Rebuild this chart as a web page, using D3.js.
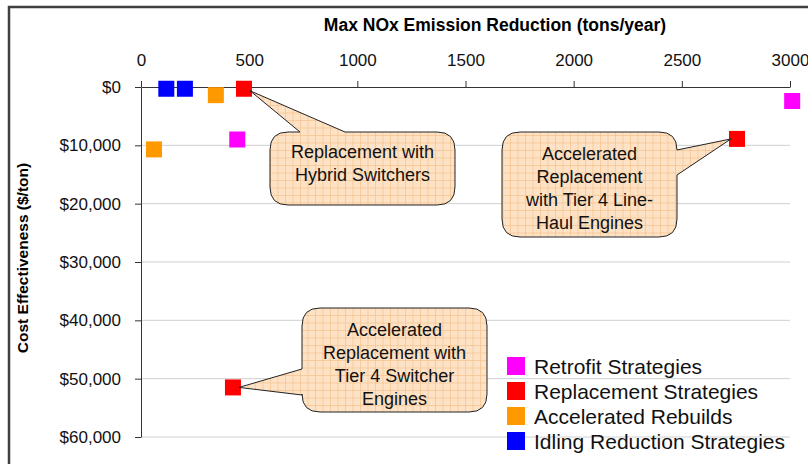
<!DOCTYPE html>
<html>
  <head>
    <script src="https://d3js.org/d3.v7.min.js"></script>
    <style>
      body { margin: 0; background: white; }
      svg { display: block; font-family: "Liberation Sans", Arial, sans-serif; }
    </style>
  </head>
  <body>
    <script>
      // data
      const seriesNames = ['Retrofit Strategies', 'Replacement Strategies', 'Accelerated Rebuilds', 'Idling Reduction Strategies'];
      const seriesColors = ['#ff00ff', '#ff0000', '#ff9900', '#0000ff'];
      const retrofitX = [445, 3010];
      const retrofitY = [9000, 2400];
      const replacementX = [476, 2755, 425];
      const replacementY = [300, 8900, 51500];
      const rebuildX = [346, 60];
      const rebuildY = [1400, 10700];
      const idlingX = [117, 203];
      const idlingY = [300, 300];
      const xTicks = [0, 500, 1000, 1500, 2000, 2500, 3000];
      const yTicks = [0, 10000, 20000, 30000, 40000, 50000, 60000];

      const calloutText = [
        ['Replacement with', 'Hybrid Switchers'],
        ['Accelerated', 'Replacement', 'with Tier 4 Line-', 'Haul Engines'],
        ['Accelerated', 'Replacement with', 'Tier 4 Switcher', 'Engines']
      ];

      const seriesX = [retrofitX, replacementX, rebuildX, idlingX];
      const seriesY = [retrofitY, replacementY, rebuildY, idlingY];

      const w = 808, h = 464;
      const svg = d3.select('body').append('svg').attr('width', w).attr('height', h);

      const x = d3.scaleLinear().domain([0, 3000]).range([141, 790]);
      const y = d3.scaleLinear().domain([0, 60000]).range([87, 437]);

      // outer frame
      svg.append('rect')
         .attr('x', 9).attr('y', 7).attr('width', 900).attr('height', 600)
         .attr('fill', 'none').attr('stroke', '#404040').attr('stroke-width', 2.5);

      // callout fill pattern
      const pat = svg.append('defs').append('pattern')
         .attr('id', 'grid').attr('patternUnits', 'userSpaceOnUse')
         .attr('width', 7.5).attr('height', 7.5);
      pat.append('rect').attr('width', 7.5).attr('height', 7.5).attr('fill', '#fde2c6');
      pat.append('path').attr('d', 'M0,0.4H7.5M0.4,0V7.5')
         .attr('stroke', '#f6c492').attr('stroke-width', 0.8);

      // gridlines
      svg.append('g').selectAll('line')
         .data(yTicks.slice(1))
         .join('line')
         .attr('x1', x(0)).attr('x2', x(3000))
         .attr('y1', d => y(d)).attr('y2', d => y(d))
         .attr('stroke', '#d0d0d0').attr('stroke-width', 1);

      // axes
      const xAxis = svg.append('g')
         .attr('transform', `translate(0,${y(0)})`)
         .call(d3.axisTop(x).tickValues(xTicks).tickSize(6).tickPadding(15).tickSizeOuter(0)
               .tickFormat(d3.format('d')));
      const yAxis = svg.append('g')
         .attr('transform', `translate(${x(0)},0)`)
         .call(d3.axisLeft(y).tickValues(yTicks).tickSize(6).tickPadding(14).tickSizeOuter(0)
               .tickFormat(d => '$' + d3.format(',')(d)));
      [xAxis, yAxis].forEach(a => {
        a.select('.domain').attr('stroke', '#333');
        a.selectAll('.tick line').attr('stroke', '#333');
        a.selectAll('text').attr('font-size', 17).attr('fill', '#111')
         .attr('font-family', '"Liberation Sans", Arial, sans-serif');
      });

      svg.append('text')
         .attr('x', 495).attr('y', 31)
         .attr('text-anchor', 'middle')
         .attr('font-size', 17.5).attr('font-weight', 'bold')
         .text('Max NOx Emission Reduction (tons/year)');

      svg.append('text')
         .attr('transform', 'translate(28,258) rotate(-90)')
         .attr('text-anchor', 'middle')
         .attr('font-size', 15.5).attr('font-weight', 'bold')
         .text('Cost Effectiveness ($/ton)');

      // points
      const size = 16;
      seriesNames.forEach((name, s) => {
        svg.append('g').selectAll('rect')
           .data(seriesX[s].map((v, i) => [v, seriesY[s][i]]))
           .join('rect')
           .attr('x', d => x(d[0]) - size / 2)
           .attr('y', d => y(d[1]) - size / 2)
           .attr('width', size).attr('height', size)
           .attr('fill', seriesColors[s]);
      });

      // callouts: box layout + which point they point at
      const callouts = [
        {s: 1, i: 0, box: [270, 132, 185, 73], side: 'top', base: [300, 345], lines: calloutText[0], ty: 158},
        {s: 1, i: 1, box: [502, 132, 175, 105], side: 'right', base: [150, 175], lines: calloutText[1], ty: 160},
        {s: 1, i: 2, box: [302, 308, 185, 104], side: 'left', base: [369, 395], lines: calloutText[2], ty: 336}
      ];

      function calloutPath(c) {
        const [bx, by, bw, bh] = c.box;
        const r = 18;
        const tx = x(seriesX[c.s][c.i]) + (c.side === 'right' ? -6 : 6);
        const ty = y(seriesY[c.s][c.i]) + (c.side === 'top' ? 2 : 0);
        const p = d3.path();
        p.moveTo(bx + r, by);
        if (c.side === 'top') { p.lineTo(c.base[0], by); p.lineTo(tx, ty); p.lineTo(c.base[1], by); }
        p.lineTo(bx + bw - r, by);
        p.quadraticCurveTo(bx + bw, by, bx + bw, by + r);
        if (c.side === 'right') { p.lineTo(bx + bw, c.base[0]); p.lineTo(tx, ty); p.lineTo(bx + bw, c.base[1]); }
        p.lineTo(bx + bw, by + bh - r);
        p.quadraticCurveTo(bx + bw, by + bh, bx + bw - r, by + bh);
        p.lineTo(bx + r, by + bh);
        p.quadraticCurveTo(bx, by + bh, bx, by + bh - r);
        if (c.side === 'left') { p.lineTo(bx, c.base[1]); p.lineTo(tx, ty); p.lineTo(bx, c.base[0]); }
        p.lineTo(bx, by + r);
        p.quadraticCurveTo(bx, by, bx + r, by);
        p.closePath();
        return p.toString();
      }

      const cg = svg.append('g').selectAll('g').data(callouts).join('g');
      cg.append('path')
        .attr('d', calloutPath)
        .attr('fill', 'url(#grid)')
        .attr('stroke', '#222').attr('stroke-width', 1);
      cg.append('text')
        .attr('text-anchor', 'middle')
        .attr('font-size', 18).attr('fill', '#111')
        .selectAll('tspan')
        .data(c => c.lines.map((l, k) => ({l, k, c})))
        .join('tspan')
        .attr('x', d => d.c.box[0] + d.c.box[2] / 2)
        .attr('y', d => d.c.ty + d.k * 23)
        .text(d => d.l);

      // legend
      const legend = svg.append('g').selectAll('g')
         .data(seriesNames)
         .join('g')
         .attr('transform', (d, i) => `translate(507,${366 + i * 25})`);
      legend.append('rect')
         .attr('x', 0).attr('y', -9).attr('width', 18).attr('height', 18)
         .attr('fill', (d, i) => seriesColors[i]);
      legend.append('text')
         .attr('x', 27).attr('y', 7.5)
         .attr('font-size', 21).attr('fill', '#111')
         .text(d => d);
    </script>
  </body>
</html>
